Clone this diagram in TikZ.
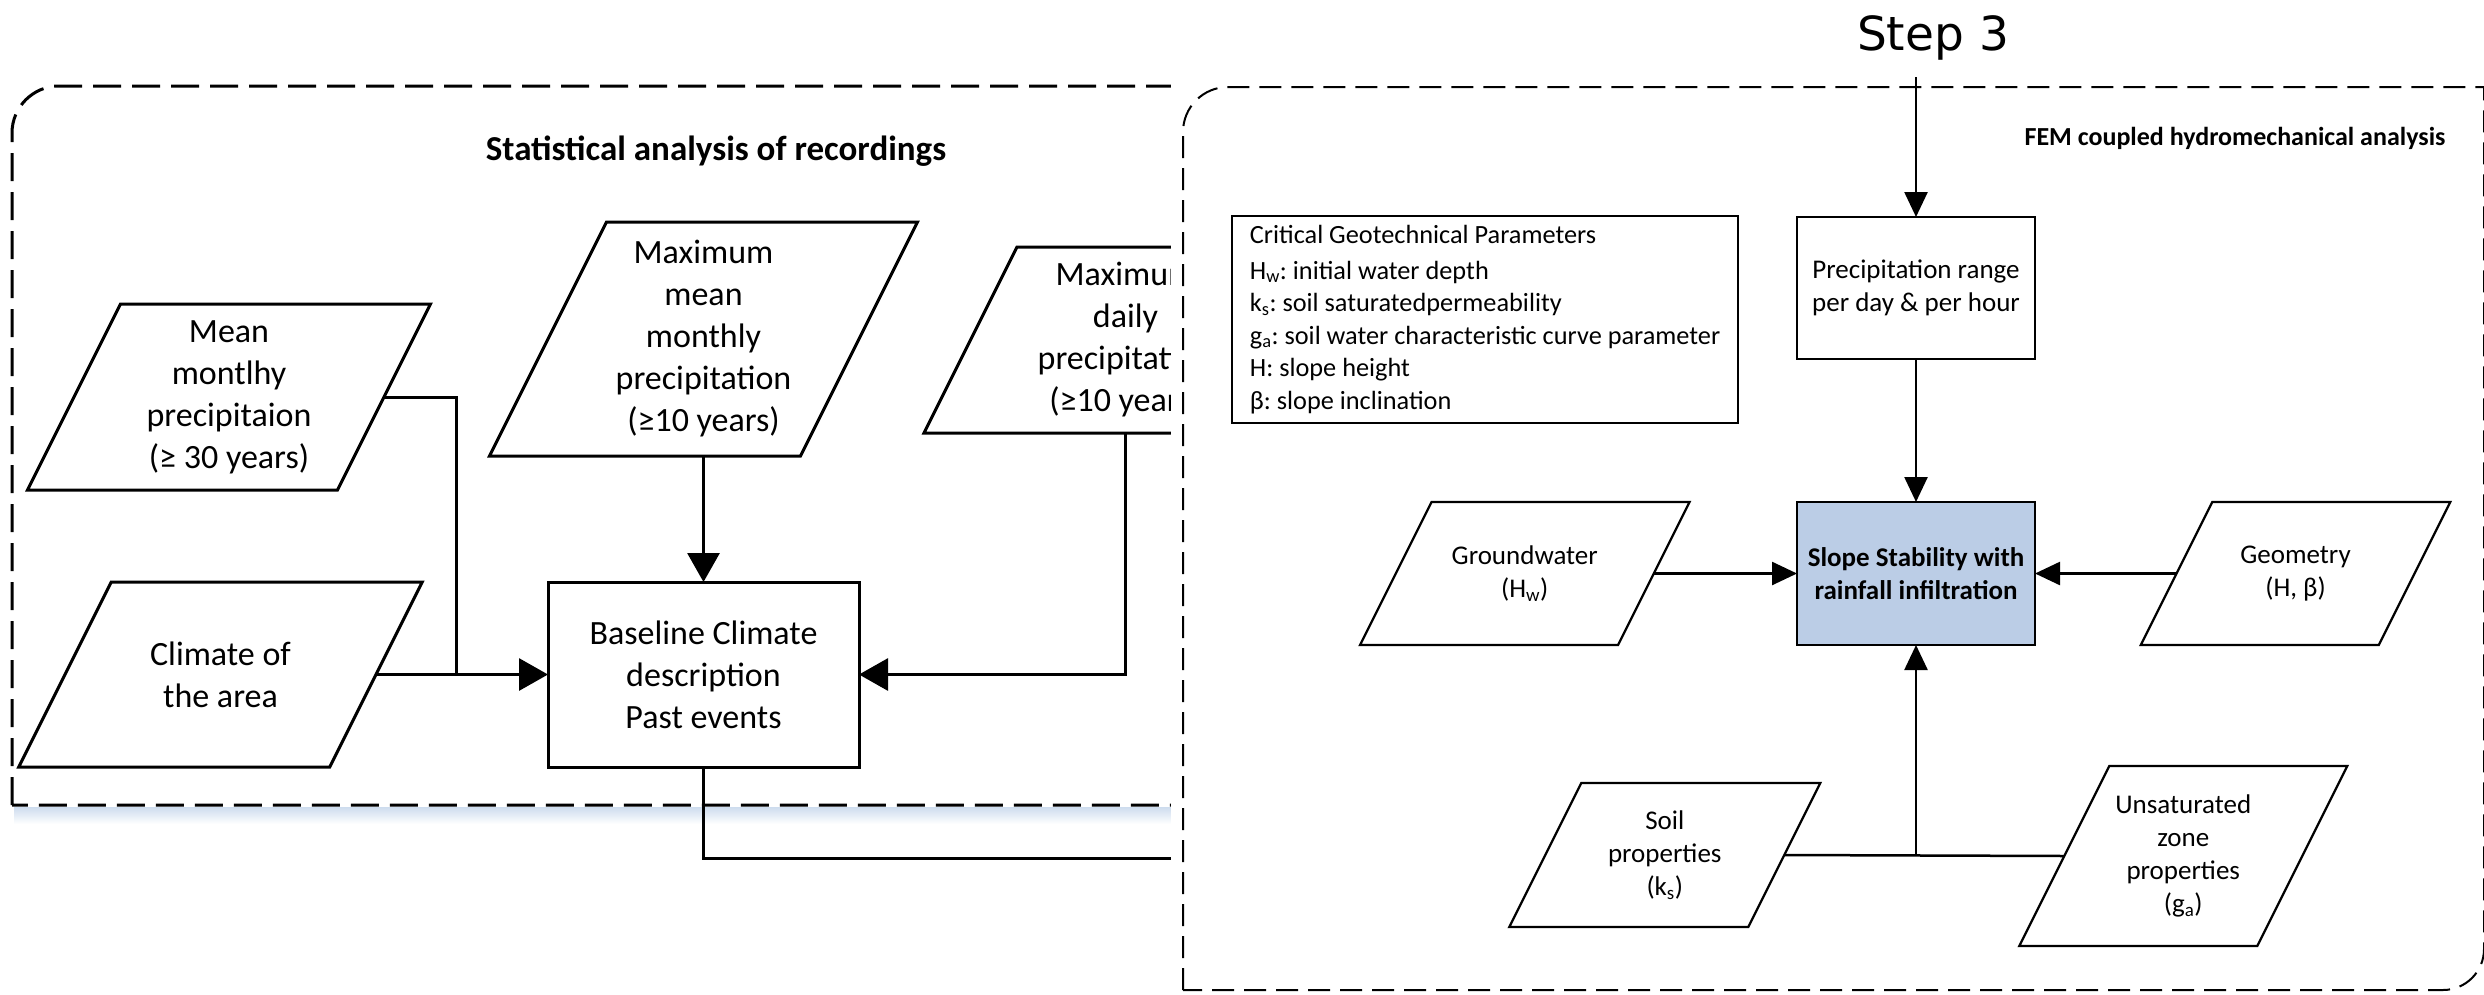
\documentclass[tikz,border=0pt]{standalone}
\usepackage{fontspec}
\setmainfont{Carlito}
\newfontfamily\stepfont{DejaVu Sans}
\usetikzlibrary{arrows.meta,calc}
\definecolor{slopefill}{RGB}{187,205,230}
\definecolor{shadowblue}{RGB}{205,220,238}

% #1 text style, #2 border style, #3 name, #4 centre, #5 side width, #6 height, #7 text
\newcommand\ParaNode[7]{%
  \node[#1, minimum width=#5pt, minimum height=#6pt] (#3) at #4 {#7};
  \draw[#2] ($(#3.north west)+(#6/4,0)$) -- ($(#3.north east)+(#6/4,0)$)
    -- ($(#3.south east)-(#6/4,0)$) -- ($(#3.south west)-(#6/4,0)$) -- cycle;
}

\begin{document}
\frenchspacing
\begin{tikzpicture}[x=1pt,y=-1pt,
  every node/.style={inner sep=0pt, outer sep=0pt},
  ltext/.style={align=center, font=\fontsize{34}{42}\selectfont},
  rtext/.style={align=center, font=\fontsize{27}{33}\selectfont},
  lborder/.style={line width=3pt},
  rborder/.style={line width=2.2pt},
  lbox/.style={draw, line width=3pt, ltext},
  rbox/.style={draw, line width=2.4pt, rtext},
  lline/.style={line width=3pt},
  larrow/.style={line width=3pt, -{Triangle[length=29pt,width=32pt]}},
  rline/.style={line width=2.5pt},
  rarrow/.style={line width=2.5pt, -{Triangle[length=25pt,width=23pt]}},
  lframe/.style={line width=3pt, dash pattern=on 28pt off 11pt},
  rframe/.style={line width=2pt, dash pattern=on 22pt off 10pt},
]
\fill[white] (0,0) rectangle (2484,994);
\useasboundingbox (0,0) rectangle (2484,994);

% ---------- left frame ----------
\shade[top color=shadowblue, bottom color=white] (14,807) rectangle (1171,824);
\draw[lframe] (12,805) -- (12,133) arc[start angle=180, end angle=270, radius=47]
  -- (1300,86) -- (1300,805) -- cycle;
\node[font=\bfseries\fontsize{35}{40}\selectfont, anchor=base] (t1) at (716,160)
  {Statistical analysis of recordings};

\ParaNode{ltext}{lborder}{mean}{(229,397)}{310}{186}{Mean\\montlhy\\precipitaion\\(≥ 30 years)}
\ParaNode{ltext}{lborder}{maxmean}{(703.5,339)}{311}{234}{Maximum\\mean\\monthly\\precipitation\\(≥10 years)}
\ParaNode{ltext}{lborder}{maxdaily}{(1125.5,340)}{310}{186}{Maximum\\daily\\precipitation\\(≥10 years)}
\ParaNode{ltext}{lborder}{climate}{(220.5,674.5)}{311}{185}{Climate of\\the area}
\node[lbox, minimum width=311pt, minimum height=185pt] (base) at (703.5,674.5)
  {Baseline Climate\\description\\Past events};

\coordinate (j1) at (456,674.5);
\draw[lline] (mean.east) -| (j1);
\draw[larrow] (climate.east) -- (base.west);
\draw[larrow] (maxmean.south) -- (base.north);
\draw[larrow] (maxdaily.south) |- (base.east);
\coordinate (rb) at (1183,858);
\draw[lline] (base.south) |- (rb);

% ---------- right frame ----------
\fill[white] (1171,80) rectangle (2484,994);
\draw[rframe, fill=white] (1183,990) -- (1183,132) arc[start angle=180, end angle=270, radius=45]
  -- (2484,87) -- (2484,949) arc[start angle=0, end angle=90, radius=41] -- cycle;
\node[font=\bfseries\fontsize{26}{32}\selectfont, anchor=base] (t2) at (2235,145)
  {FEM coupled hydromechanical analysis};

\node[draw, line width=2pt, minimum width=506pt, minimum height=207pt,
  align=left, font=\fontsize{26.3}{32.5}\selectfont] (crit) at (1485,319.5)
  {Critical Geotechnical Parameters\\[3pt]
   H\textsubscript{w}: initial water depth\\
   k\textsubscript{s}: soil saturatedpermeability\\
   g\textsubscript{a}: soil water characteristic curve parameter\\
   H: slope height\\
   β: slope inclination};

\node[rbox, minimum width=238pt, minimum height=142pt] (precip) at (1916,288)
  {Precipitation range\\per day \& per hour};
\node[rbox, fill=slopefill, font=\bfseries\fontsize{27}{33}\selectfont,
  minimum width=238pt, minimum height=143pt] (slope) at (1916,573.5)
  {Slope Stability with\\rainfall infiltration};

\ParaNode{rtext}{rborder}{ground}{(1524.75,573.5)}{258}{143}{Groundwater\\(H\textsubscript{w})}
\ParaNode{rtext}{rborder}{geom}{(2295.5,573.5)}{238}{143}{Geometry\\(H, β)}
\ParaNode{rtext}{rborder}{soil}{(1664.75,855)}{239}{144}{Soil\\properties\\(k\textsubscript{s})}
\ParaNode{rtext}{rborder}{unsat}{(2183.25,856)}{238}{180}{Unsaturated\\zone\\properties\\(g\textsubscript{a})}

\draw[rarrow] (precip.south) -- (slope.north);
\draw[rarrow] (ground.east) -- (slope.west);
\draw[rarrow] (geom.west) -- (slope.east);
\draw[rline] (soil.east) -- (unsat.west);
\coordinate (j2) at (slope.south |- soil.east);
\draw[rarrow] (j2) -- (slope.south);

% ---------- step 3 ----------
\node[font=\stepfont\fontsize{47}{56}\selectfont, anchor=base] (step) at (1933,50) {Step 3};
\coordinate (s3) at (1916,77);
\draw[rarrow] (s3) -- (precip.north);
\end{tikzpicture}
\end{document}
